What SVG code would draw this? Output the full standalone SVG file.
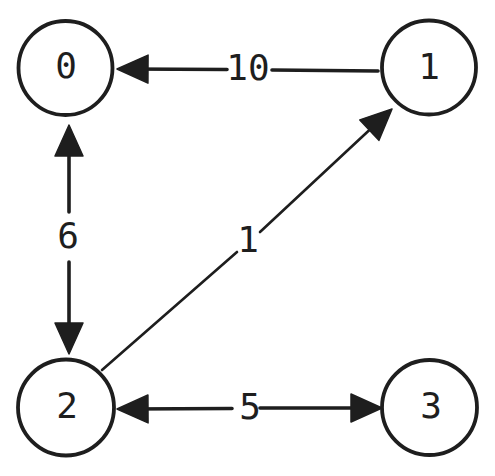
<svg xmlns="http://www.w3.org/2000/svg" width="495" height="476" viewBox="0 0 495 476">
<style>
.node{fill:#fff;stroke:#1e1e1e;stroke-width:3.8}
.lbl{font-family:"DejaVu Sans Mono","Liberation Mono",monospace;font-size:36px;fill:#1e1e1e;text-anchor:middle}
.edge{fill:none;stroke:#1e1e1e;stroke-width:3.6;stroke-linecap:round}
.thin{stroke-width:2.6}
</style>
<defs>
<marker id="ah" viewBox="-33 -15 34 30" refX="-10" refY="0" markerWidth="34" markerHeight="30" markerUnits="userSpaceOnUse" orient="auto" overflow="visible">
<path d="M0,0 L-31,-14 L-31,14 Z" fill="#1e1e1e" stroke="#1e1e1e" stroke-width="1.5" stroke-linejoin="round"/>
</marker>
</defs>
<rect width="495" height="476" fill="#fff"/>
<g id="connectors">
<g id="e1-0">
<path class="edge" d="M378,71 L272,70"/>
<path class="edge" d="M227,69.5 L127,69" marker-end="url(#ah)"/>
<text class="lbl" x="248" y="80">10</text>
</g>
<g id="e0-2">
<path class="edge" d="M69,212 L69,135" marker-end="url(#ah)"/>
<path class="edge" d="M69,262 L69,344" marker-end="url(#ah)"/>
<text class="lbl" x="68" y="248">6</text>
</g>
<g id="e2-1">
<path class="edge thin" d="M102,370 L237,252"/>
<path class="edge thin" d="M260,232 L384.7,115.8" marker-end="url(#ah)"/>
<text class="lbl" x="248" y="252">1</text>
</g>
<g id="e2-3">
<path class="edge" d="M232,408.5 L127,409" marker-end="url(#ah)"/>
<path class="edge" d="M260,408 L372,408" marker-end="url(#ah)"/>
<text class="lbl" x="250" y="419">5</text>
</g>
</g>
<g id="node0">
<circle class="node" cx="65.5" cy="68" r="47"/>
<text class="lbl" x="66" y="78">0</text>
</g>
<g id="node1">
<circle class="node" cx="429" cy="67.5" r="47"/>
<text class="lbl" x="429" y="79">1</text>
</g>
<g id="node2">
<circle class="node" cx="66" cy="407.5" r="48"/>
<text class="lbl" x="67" y="418">2</text>
</g>
<g id="node3">
<circle class="node" cx="429.5" cy="407.5" r="47.5"/>
<text class="lbl" x="431" y="418">3</text>
</g>
</svg>
